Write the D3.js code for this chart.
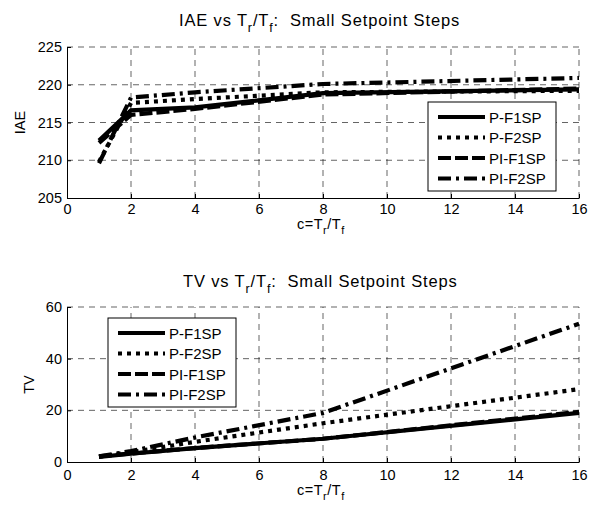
<!DOCTYPE html>
<html>
<head>
<meta charset="utf-8">
<script src="https://cdn.jsdelivr.net/npm/d3@7"></script>
<style>
  body { margin: 0; background: #fff; }
  text { font-family: "Liberation Sans", Arial, Helvetica, sans-serif; fill: #000; }
</style>
</head>
<body>
<svg id="chart" width="589" height="507"></svg>
<script>
// data
var cVals = [1, 2, 4, 8, 16];
var seriesNames = ["P-F1SP", "P-F2SP", "PI-F1SP", "PI-F2SP"];
var iaeP1 = [212.6, 216.6, 217.0, 218.9, 219.4];
var iaeP2 = [209.8, 217.6, 218.1, 219.0, 219.2];
var iaePI1 = [212.3, 216.0, 216.8, 218.7, 219.5];
var iaePI2 = [209.6, 218.3, 219.0, 220.1, 220.9];
var tvP1 = [2.0, 3.2, 5.4, 9.0, 19.0];
var tvP2 = [2.0, 3.8, 7.8, 15.0, 28.2];
var tvPI1 = [2.2, 3.3, 5.4, 9.0, 19.4];
var tvPI2 = [2.2, 4.2, 9.5, 19.0, 53.5];
var xTicks = [0, 2, 4, 6, 8, 10, 12, 14, 16];
var iaeTicks = [205, 210, 215, 220, 225];
var tvTicks = [0, 20, 40, 60];

// line styles per series
var dashes = ["none", "4,5", "13,4", "13,5,3,5"];

var svg = d3.select("#chart");

function drawPanel(opt) {
  var x = d3.scaleLinear().domain([0, 16]).range([67, 579]);
  var y = d3.scaleLinear().domain(opt.yDomain).range([opt.bottom, opt.top]);
  var g = svg.append("g");

  // grid
  g.selectAll(".gx").data(xTicks.slice(1)).enter().append("line")
    .attr("x1", function(d) { return x(d); }).attr("x2", function(d) { return x(d); })
    .attr("y1", opt.bottom).attr("y2", opt.top)
    .attr("stroke", "#222").attr("stroke-width", 0.7).attr("stroke-dasharray", "6,5");
  g.selectAll(".gy").data(opt.yTicks.slice(1)).enter().append("line")
    .attr("x1", x(0)).attr("x2", x(16))
    .attr("y1", function(d) { return y(d); }).attr("y2", function(d) { return y(d); })
    .attr("stroke", "#222").attr("stroke-width", 0.7).attr("stroke-dasharray", "6,5");

  // axes
  var xa = g.append("g").attr("transform", "translate(0," + opt.bottom + ")")
    .call(d3.axisBottom(x).tickValues(xTicks).tickSizeInner(-4).tickSizeOuter(0).tickPadding(opt.xPad));
  var ya = g.append("g").attr("transform", "translate(67,0)")
    .call(d3.axisLeft(y).tickValues(opt.yTicks).tickSizeInner(-4).tickSizeOuter(0).tickPadding(5));
  [xa, ya].forEach(function(a) {
    a.select(".domain").attr("stroke", "#000").attr("stroke-width", 1);
    a.selectAll(".tick line").attr("stroke", "#000");
    a.selectAll("text").style("font-size", "14.5px").attr("fill", "#000")
      .style("font-family", "'Liberation Sans', Arial, sans-serif");
  });

  // lines
  var line = d3.line()
    .x(function(d, i) { return x(cVals[i]); })
    .y(function(d) { return y(d); });
  opt.series.forEach(function(s, i) {
    g.append("path").datum(s)
      .attr("d", line)
      .attr("fill", "none").attr("stroke", "#000")
      .attr("stroke-width", 4.2)
      .attr("stroke-dasharray", dashes[i]);
  });

  // title with subscripts
  var t = svg.append("text").attr("x", opt.titleX).attr("y", opt.titleY)
    .style("font-size", "16.5px").style("letter-spacing", "0.85px");
  t.append("tspan").text(opt.name + " vs T");
  t.append("tspan").text("r").attr("dy", 6).style("font-size", "12.5px");
  t.append("tspan").text("/T").attr("dy", -6);
  t.append("tspan").text("f").attr("dy", 6).style("font-size", "12.5px");
  t.append("tspan").text(":\u00a0 Small Setpoint Steps").attr("dy", -6);

  // x label
  var xl = svg.append("text").attr("x", 297).attr("y", opt.xlabY)
    .style("font-size", "14.5px").style("letter-spacing", "0.5px");
  xl.append("tspan").text("c=T");
  xl.append("tspan").text("r").attr("dy", 5).style("font-size", "11px");
  xl.append("tspan").text("/T").attr("dy", -5);
  xl.append("tspan").text("f").attr("dy", 5).style("font-size", "11px");

  // y label
  svg.append("text")
    .attr("transform", "translate(" + opt.ylabX + "," + ((opt.top + opt.bottom) / 2) + ") rotate(-90)")
    .attr("text-anchor", "middle").style("font-size", "14.5px").text(opt.name);

  // legend
  var L = opt.legend;
  var lg = svg.append("g");
  lg.append("rect").attr("x", L.x).attr("y", L.y).attr("width", 128).attr("height", 89)
    .attr("fill", "#fff").attr("stroke", "#000").attr("stroke-width", 1);
  seriesNames.forEach(function(n, i) {
    var yy = L.y + 15 + i * 20.5;
    lg.append("line").attr("x1", L.x + 10).attr("x2", L.x + 57)
      .attr("y1", yy).attr("y2", yy)
      .attr("stroke", "#000").attr("stroke-width", 4.2)
      .attr("stroke-dasharray", dashes[i]);
    lg.append("text").attr("x", L.x + 61).attr("y", yy + 5.5)
      .style("font-size", "15px").text(n);
  });
}

drawPanel({
  name: "IAE", yDomain: [205, 225], yTicks: iaeTicks, top: 47, bottom: 198,
  series: [iaeP1, iaeP2, iaePI1, iaePI2], xPad: 6,
  titleX: 179, titleY: 26, xlabY: 229, ylabX: 25, legend: { x: 428, y: 102 }
});
drawPanel({
  name: "TV", yDomain: [0, 60], yTicks: tvTicks, top: 307, bottom: 462,
  series: [tvP1, tvP2, tvPI1, tvPI2], xPad: 8,
  titleX: 183, titleY: 287, xlabY: 495, ylabX: 34, legend: { x: 108, y: 318 }
});
</script>
</body>
</html>
